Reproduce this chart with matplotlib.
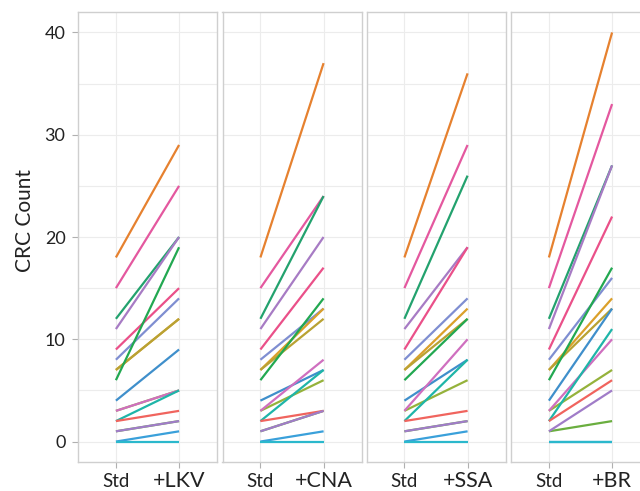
import matplotlib
matplotlib.use('Agg')
import matplotlib.pyplot as plt
import matplotlib.transforms as mtransforms

plt.rcParams['font.family'] = ['Lato', 'DejaVu Sans']

# CRC counts per case: standard panel and each added component
conditions = ['+LKV', '+CNA', '+SSA', '+BR']
std = [18, 15, 12, 11, 9, 8, 7, 7, 6, 4, 3, 3, 2, 2, 1, 1, 0, 0]
lkv = [29, 25, 20, 20, 15, 14, 12, 12, 19, 9, 5, 5, 5, 3, 2, 2, 1, 0]
cna = [37, 24, 24, 20, 17, 13, 13, 12, 14, 7, 8, 6, 7, 3, 3, 3, 1, 0]
ssa = [36, 29, 26, 19, 19, 14, 13, 12, 12, 8, 10, 6, 8, 3, 2, 2, 1, 0]
br = [40, 33, 27, 27, 22, 16, 14, 13, 17, 13, 10, 7, 11, 6, 5, 2, 0, 0]
added = [lkv, cna, ssa, br]

colors = ['#E6812F', '#E4589F', '#23A26E', '#A77BC4', '#EA5089', '#7F8ED1',
          '#DBA02A', '#B9A233', '#22A851', '#3F8FCB', '#CF6FBF', '#95B23B',
          '#1FB5A8', '#F0645E', '#A07CC8', '#6AAE3F', '#3AA0DA', '#2BB8CC']
# a few series sit underneath others where they overlap
zorders = [3, 3, 3, 3, 3, 3, 3, 3, 3, 3, 3, 2, 3, 3, 3, 2, 3, 3]

W, H = 640, 491
fig = plt.figure(figsize=(W / 100, H / 100), dpi=100)

lefts = [78, 222.5, 366.5, 511]
pw = 139
top, bottom = 12, 462

for i, (cond, vals) in enumerate(zip(conditions, added)):
    ax = fig.add_axes([lefts[i] / W, (H - bottom) / H, pw / W, (bottom - top) / H])
    for j in range(len(std)):
        ax.plot([0, 1], [std[j], vals[j]], color=colors[j], lw=1.6,
                solid_capstyle='butt', zorder=zorders[j])
    ax.set_xlim(-0.6, 1.6)
    ax.set_ylim(-2, 42)
    ax.set_xticks([0, 1])
    ax.set_xticklabels([])
    ax.set_yticks([0, 10, 20, 30, 40])
    ax.set_yticks([5, 15, 25, 35], minor=True)
    ax.grid(True, which='both', color='#ececec', lw=0.8)
    ax.set_axisbelow(True)
    for s in ax.spines.values():
        s.set_color('#cfcfcf')
        s.set_linewidth(1.0)
    ax.tick_params(which='major', length=4, color='#b0b0b0', width=0.8,
                   labelsize=13, labelcolor='#222222', pad=5)
    ax.tick_params(which='minor', length=0)
    if i > 0:
        ax.tick_params(axis='y', length=0, labelleft=False)
    trans = mtransforms.blended_transform_factory(ax.transData, ax.transAxes)
    ax.text(0, -0.056, 'Std', transform=trans, ha='center', va='baseline',
            fontsize=13.5, color='#222222')
    ax.text(1, -0.056, cond, transform=trans, ha='center', va='baseline',
            fontsize=15.5, color='#222222')

fig.text(25 / W, 1 - 220 / H, 'CRC Count', rotation=90, ha='center',
         va='center', fontsize=15, color='#222222')

fig.savefig('out.png', dpi=100)
